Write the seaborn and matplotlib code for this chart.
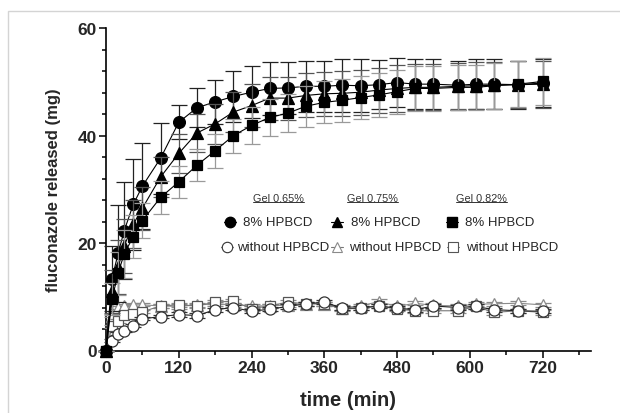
import numpy as np
import pandas as pd
import matplotlib
matplotlib.use("Agg")
import matplotlib.pyplot as plt
import seaborn as sns
from matplotlib.lines import Line2D
from matplotlib.patches import Rectangle

# dados (tempo em min, fluconazol liberado em mg)
tempo = [0, 10, 20, 30, 45, 60, 90, 120, 150, 180, 210, 240, 270, 300,
         330, 360, 390, 420, 450, 480, 510, 540, 580, 610, 640, 680, 720]

gel065_hp = [0, 13.4, 18.1, 22.3, 27.2, 30.6, 35.8, 42.5, 45.2, 46.3, 47.3, 48.1, 48.8, 48.9,
             49.2, 49.2, 49.4, 49.3, 49.5, 49.9, 49.6, 49.6, 49.4, 49.6, 49.6, 49.5, 49.8]
gel065_hp_err = [0, 6, 9, 9, 8.4, 8, 6.6, 3.2, 3.6, 4.1, 4.7, 4.8, 4.9, 4.8,
                 4.7, 4.7, 4.9, 4.9, 4.6, 4.6, 4.6, 4.6, 4.6, 4.6, 4.6, 4.5, 4.5]
gel075_hp = [0, 11.0, 15.5, 19.5, 23.5, 26.5, 32.3, 36.7, 40.5, 42.2, 44.4, 45.6, 47.0, 47.0,
             47.5, 47.8, 47.9, 48.1, 48.5, 48.8, 49.0, 49.0, 49.2, 49.3, 49.4, 49.5, 49.6]
gel075_hp_err = [0, 4, 5, 5, 4.5, 4, 3.8, 3.6, 3.6, 3.7, 3.8, 4.0, 4.0, 4.0,
                 4.1, 4.1, 4.2, 4.2, 4.2, 4.3, 4.3, 4.3, 4.3, 4.4, 4.4, 4.4, 4.4]
gel082_hp = [0, 9.6, 14.4, 18.0, 21.2, 24.2, 28.5, 31.4, 34.5, 37.2, 40.0, 41.9, 43.4, 44.2,
             45.5, 46.2, 46.6, 47.1, 47.6, 48.2, 48.8, 48.8, 49.0, 49.0, 49.3, 49.6, 50.1]
gel082_hp_err = [0, 3, 4, 4.5, 4, 3.2, 3.0, 3.0, 3.0, 3.2, 3.2, 3.4, 3.5, 3.6,
                 3.8, 3.9, 4.0, 4.0, 4.1, 4.1, 4.2, 4.2, 4.2, 4.2, 4.3, 4.3, 4.3]

gel065_sem = [0, 1.8, 3.1, 3.7, 4.6, 5.9, 6.3, 6.7, 6.5, 7.6, 8.0, 7.3, 7.7, 8.2,
              8.7, 9.0, 7.9, 7.9, 8.3, 7.9, 7.6, 8.3, 8.0, 8.2, 7.6, 7.4, 7.3]
gel075_sem = [0, 6.5, 8.0, 8.3, 8.5, 8.5, 8.3, 8.2, 8.5, 8.7, 8.5, 8.3, 8.3, 8.5,
              8.7, 8.7, 8.0, 8.3, 9.1, 8.2, 8.8, 8.4, 8.3, 8.6, 8.7, 8.8, 8.5]
gel082_sem = [0, 4.5, 5.5, 6.6, 6.8, 7.2, 8.3, 8.5, 8.3, 9.0, 9.2, 7.8, 8.3, 9.0,
              8.7, 8.7, 7.7, 7.9, 8.3, 7.7, 7.4, 7.4, 7.4, 8.2, 7.1, 7.4, 7.1]
sem_err = [0, 0.3, 0.3, 0.3, 0.3, 0.3, 0.3, 0.4, 0.4, 0.4, 0.4, 0.4, 0.4, 0.4,
           0.4, 0.4, 0.4, 0.4, 0.4, 0.4, 0.4, 0.4, 0.4, 0.4, 0.4, 0.4, 0.4]

gel_labels = ["Gel 0.65%", "Gel 0.75%", "Gel 0.82%"]
label_hp = "8% HPBCD"
label_sem = "without HPBCD"

sns.set_style("ticks")
plt.rcParams["font.family"] = ["Liberation Sans", "DejaVu Sans"]

fig = plt.figure(figsize=(6.2, 4.14), dpi=100)
ax = fig.add_axes([106 / 620, 62.5 / 414, 485 / 620, 322.2 / 414])

# moldura cinza clara
fig.patches.append(Rectangle((8 / 620, -0.1), 1.2, 1.1 - 12 / 414, transform=fig.transFigure,
                             fill=False, edgecolor="#d4d4d4", lw=1.0, zorder=0))

df = pd.DataFrame({"tempo": tempo})

series = [
    # (valores, erros, marcador, face, borda, cor linha, cor erro, tamanho, z)
    (gel075_sem, sem_err, "^", "white", "#8a8a8a", "#8a8a8a", "#8a8a8a", 8.0, 3),
    (gel082_sem, sem_err, "s", "white", "#555555", "#777777", "#8a8a8a", 7.5, 4),
    (gel065_sem, sem_err, "o", "white", "#333333", "#222222", "#333333", 8.0, 5),
    (gel065_hp, gel065_hp_err, "o", "black", "black", "black", "#222222", 8.5, 6),
    (gel075_hp, gel075_hp_err, "^", "black", "black", "black", "#555555", 8.5, 7),
    (gel082_hp, gel082_hp_err, "s", "black", "black", "black", "#9a9a9a", 7.8, 8),
]

for valores, erros, mk, face, borda, cor_linha, cor_erro, ms, z in series:
    ax.errorbar(tempo, valores, yerr=erros, fmt="none", ecolor=cor_erro,
                elinewidth=0.9, capsize=6, capthick=0.9, zorder=z, clip_on=False)
    df["valor"] = valores
    sns.lineplot(data=df, x="tempo", y="valor", ax=ax, color=cor_linha, lw=0.8,
                 marker=mk, markersize=ms, markerfacecolor=face, markeredgecolor=borda,
                 markeredgewidth=0.9, zorder=z + 0.5, clip_on=False, legend=False)

ax.set_xlim(0, 800)
ax.set_ylim(0, 60)
ax.set_xticks([0, 120, 240, 360, 480, 600, 720])
ax.set_xticks(np.arange(60, 800, 120), minor=True)
ax.set_yticks([0, 20, 40, 60])
ax.set_yticks([v for v in range(4, 60, 4) if v % 20 != 0], minor=True)
ax.tick_params(axis="both", which="major", direction="out", length=5, width=1.1,
               labelsize=12.5, pad=1.5, color="black")
ax.tick_params(axis="both", which="minor", direction="out", length=3, width=1.1, color="black")
for lab in ax.get_xticklabels() + ax.get_yticklabels():
    lab.set_fontweight("bold")
sns.despine(ax=ax)
for sp in ["left", "bottom"]:
    ax.spines[sp].set_linewidth(1.2)
    ax.spines[sp].set_color("black")

ax.set_xlabel("time (min)", fontsize=14.5, fontweight="bold", labelpad=11)
ax.set_ylabel("fluconazole released (mg)", fontsize=12, fontweight="bold", labelpad=12)

# legenda montada à mão, em frações do eixo
gel_x = [0.355, 0.549, 0.774]
for gx, g in zip(gel_x, gel_labels):
    ax.text(gx, 0.473, g, transform=ax.transAxes, ha="center", va="center",
            fontsize=7.8, color="#333333")

leg_hp_mk = [0.256, 0.476, 0.713]
leg_hp_tx = [0.282, 0.505, 0.740]
leg_sem_mk = [0.249, 0.476, 0.715]
leg_sem_tx = [0.270, 0.501, 0.742]
marcadores = ["o", "^", "s"]
bordas_sem = ["#333333", "#8a8a8a", "#555555"]
dx = 0.012
for i in range(3):
    ax.add_line(Line2D([leg_hp_mk[i] - dx, leg_hp_mk[i] + dx], [0.400, 0.400],
                       transform=ax.transAxes, color="black", lw=0.8))
    ax.add_line(Line2D([leg_hp_mk[i]], [0.400], transform=ax.transAxes, marker=marcadores[i],
                       markersize=7.5, markerfacecolor="black", markeredgecolor="black", lw=0))
    ax.text(leg_hp_tx[i], 0.400, label_hp, transform=ax.transAxes, ha="left", va="center",
            fontsize=9.5)
    ax.add_line(Line2D([leg_sem_mk[i] - dx, leg_sem_mk[i] + dx], [0.322, 0.322],
                       transform=ax.transAxes, color="#777777", lw=0.8))
    ax.add_line(Line2D([leg_sem_mk[i]], [0.322], transform=ax.transAxes, marker=marcadores[i],
                       markersize=7.5, markerfacecolor="white", markeredgecolor=bordas_sem[i],
                       markeredgewidth=0.8, lw=0))
    ax.text(leg_sem_tx[i], 0.322, label_sem, transform=ax.transAxes, ha="left", va="center",
            fontsize=9.5)

# sublinhado dos rótulos "Gel"
fig.canvas.draw()
renderer = fig.canvas.get_renderer()
inv = fig.transFigure.inverted()
for t in ax.texts:
    if t.get_text().startswith("Gel"):
        bb = t.get_window_extent(renderer)
        (x0, y0), (x1, _) = inv.transform([[bb.x0, bb.y0 + 1], [bb.x1, bb.y1]])
        fig.add_artist(Line2D([x0, x1], [y0, y0], transform=fig.transFigure,
                              color="#333333", lw=0.7))

fig.savefig("out.png", dpi=100)
